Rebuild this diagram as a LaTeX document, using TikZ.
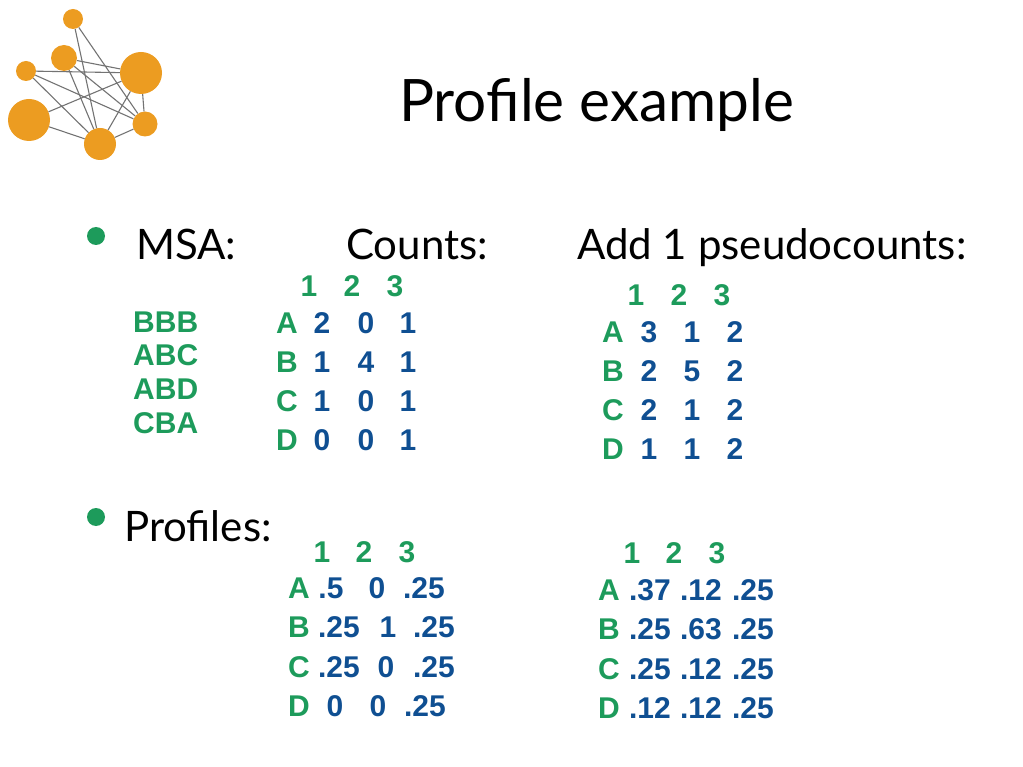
\documentclass[tikz,border=0pt]{standalone}
\usepackage{fontspec}
\setmainfont{Lato}
\newfontfamily\tablefont{Liberation Sans}
\definecolor{netorange}{HTML}{EC9C21}
\definecolor{tabgreen}{HTML}{1D9B5B}
\definecolor{tabblue}{HTML}{0F4F92}
\tikzset{
  hub/.style={circle,fill=netorange,inner sep=0pt,minimum size=#1},
  link/.style={draw=black!55,line width=1.1pt},
  slidetext/.style={anchor=base west,inner sep=0pt,font=\fontsize{42}{44}\selectfont},
  bullet/.style={circle,fill=tabgreen,inner sep=0pt,minimum size=18pt},
  lab/.style={anchor=base,yshift=-10.5pt,inner sep=0pt,text=tabgreen,font=\tablefont\bfseries\fontsize{30}{30}\selectfont},
  val/.style={anchor=base,yshift=-10.5pt,inner sep=0pt,text=tabblue,font=\tablefont\bfseries\fontsize{30}{30}\selectfont}
}
\begin{document}
\begin{tikzpicture}[x=1pt,y=-1pt]
\useasboundingbox (0,0) rectangle (1023,767);

% network logo
\node[hub=20pt] (top) at (73,19) {};
\node[hub=26pt] (mid) at (64,58) {};
\node[hub=20pt] (lft) at (26,71) {};
\node[hub=42pt] (bigr) at (141,73) {};
\node[hub=42pt] (bigl) at (29,120) {};
\node[hub=32pt] (bot) at (100,144) {};
\node[hub=25pt] (rgt) at (145,124) {};
\foreach\a/\b in {top/bot,top/rgt,mid/bigr,mid/bot,mid/rgt,lft/bigr,lft/bot,lft/rgt,bigl/bigr,bigl/bot,bot/bigr,bot/rgt,rgt/bigr} {
\draw[link] (\a) -- (\b);
}

% headings
\node[slidetext,font=\fontsize{58.5}{60}\selectfont] (title) at (399,122) {Profile example};
\node[bullet] (bul1) at (96,236) {};
\node[bullet] (bul2) at (96,517) {};
\node[slidetext] (msa) at (136,260) {MSA:};
\node[slidetext] (counts) at (346,260) {Counts:};
\node[slidetext] (pseudo) at (577,260) {Add 1 pseudocounts:};
\node[slidetext] (profiles) at (124,541) {Profiles:};

% alignment
\foreach\i/\s/\y in {1/BBB/322,2/ABC/355,3/ABD/389,4/CBA/423} {
\node[lab,anchor=base west] (seq\i) at (133,\y) {\s};
}

% counts
\foreach\i/\x in {1/309,2/352,3/395} {
\node[lab] (chead\i) at (\x,286) {\i};
}
\foreach\l/\y/\a/\b/\c in {A/323/2/0/1,B/362/1/4/1,C/401/1/0/1,D/440/0/0/1} {
\node[lab] (c\l) at (287,\y) {\l};
\node[val] (c\l1) at (322,\y) {\a};
\node[val] (c\l2) at (366,\y) {\b};
\node[val] (c\l3) at (408,\y) {\c};
}

% pseudocounts
\foreach\i/\x in {1/636,2/679,3/722} {
\node[lab] (phead\i) at (\x,295) {\i};
}
\foreach\l/\y/\a/\b/\c in {A/332/3/1/2,B/371/2/5/2,C/410/2/1/2,D/449/1/1/2} {
\node[lab] (p\l) at (613,\y) {\l};
\node[val] (p\l1) at (649,\y) {\a};
\node[val] (p\l2) at (692,\y) {\b};
\node[val] (p\l3) at (735,\y) {\c};
}

% profile from counts
\foreach\i/\x in {1/322,2/364,3/407} {
\node[lab] (fhead\i) at (\x,552) {\i};
}
\foreach\l/\y/\a/\ax/\b/\bx/\c/\cx in {A/588/.5/331/0/377/.25/424,B/627/.25/339/1/388/.25/434,C/667/.25/339/0/386/.25/434,D/706/0/335/0/378/.25/425} {
\node[lab] (f\l) at (299,\y) {\l};
\node[val] (f\l1) at (\ax,\y) {\a};
\node[val] (f\l2) at (\bx,\y) {\b};
\node[val] (f\l3) at (\cx,\y) {\c};
}

% profile from pseudocounts
\foreach\i/\x in {1/632,2/674,3/717} {
\node[lab] (ghead\i) at (\x,553) {\i};
}
\foreach\l/\y/\a/\b/\c in {A/590/.37/.12/.25,B/629/.25/.63/.25,C/669/.25/.12/.25,D/708/.12/.12/.25} {
\node[lab] (g\l) at (609,\y) {\l};
\node[val] (g\l1) at (650,\y) {\a};
\node[val] (g\l2) at (701,\y) {\b};
\node[val] (g\l3) at (753,\y) {\c};
}
\end{tikzpicture}
\end{document}
